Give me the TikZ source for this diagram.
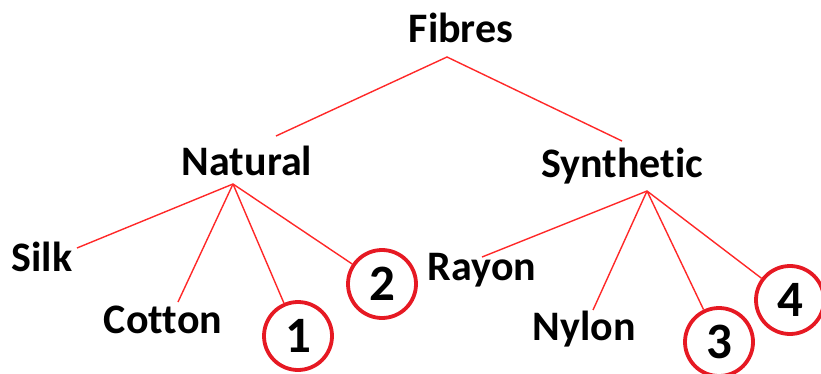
\documentclass[tikz,border=0pt]{standalone}
\usepackage{fontspec}
\setmainfont[Ligatures={NoCommon}]{Carlito}
\definecolor{lred}{RGB}{255,40,40}
\definecolor{cred}{RGB}{230,25,35}
\tikzset{
  lbl/.style={font=\fontsize{42}{44}\selectfont\bfseries, inner sep=0pt, text=black},
  num/.style={circle, draw=cred, line width=3.8pt, minimum size=68pt, inner sep=0pt,
              font=\fontsize{51}{53}\selectfont\bfseries},
  edge/.style={draw=lred, line width=1.4pt}
}
\begin{document}
\begin{tikzpicture}[x=1pt,y=-1pt]
\useasboundingbox (0,0) rectangle (821,374);
% labels
\node[lbl] (fib) at (461,28) {Fibres};
\node[lbl] (nat) at (247,161) {Natural};
\node[lbl] (syn) at (622,166) {Synthetic};
\node[lbl] (silk) at (42,257) {Silk};
\node[lbl] (cot) at (163,320) {Cotton};
\node[lbl] (ray) at (482,270) {Rayon};
\node[lbl] (nyl) at (584,329) {Nylon};
\node[num] (c1) at (298,336) {1};
\node[num] (c2) at (382,284) {2};
\node[num] (c3) at (719,342) {3};
\node[num] (c4) at (790,300) {4};
% junction and end points
\coordinate (fj) at (447,57);
\coordinate (fn) at (276,136);
\coordinate (fs) at (622,141);
\coordinate (nj) at (233,184);
\coordinate (nsilk) at (77,248);
\coordinate (ncot) at (178,302);
\coordinate (sj) at (647,191);
\coordinate (sray) at (482,257);
\coordinate (snyl) at (593,310);
% connectors
\draw[edge] (fn) -- (fj) -- (fs);
\draw[edge] (nj) -- (nsilk);
\draw[edge] (nj) -- (ncot);
\draw[edge] (nj) -- (c1);
\draw[edge] (nj) -- (c2);
\draw[edge] (sj) -- (sray);
\draw[edge] (sj) -- (snyl);
\draw[edge] (sj) -- (c3);
\draw[edge] (sj) -- (c4);
\end{tikzpicture}
\end{document}
